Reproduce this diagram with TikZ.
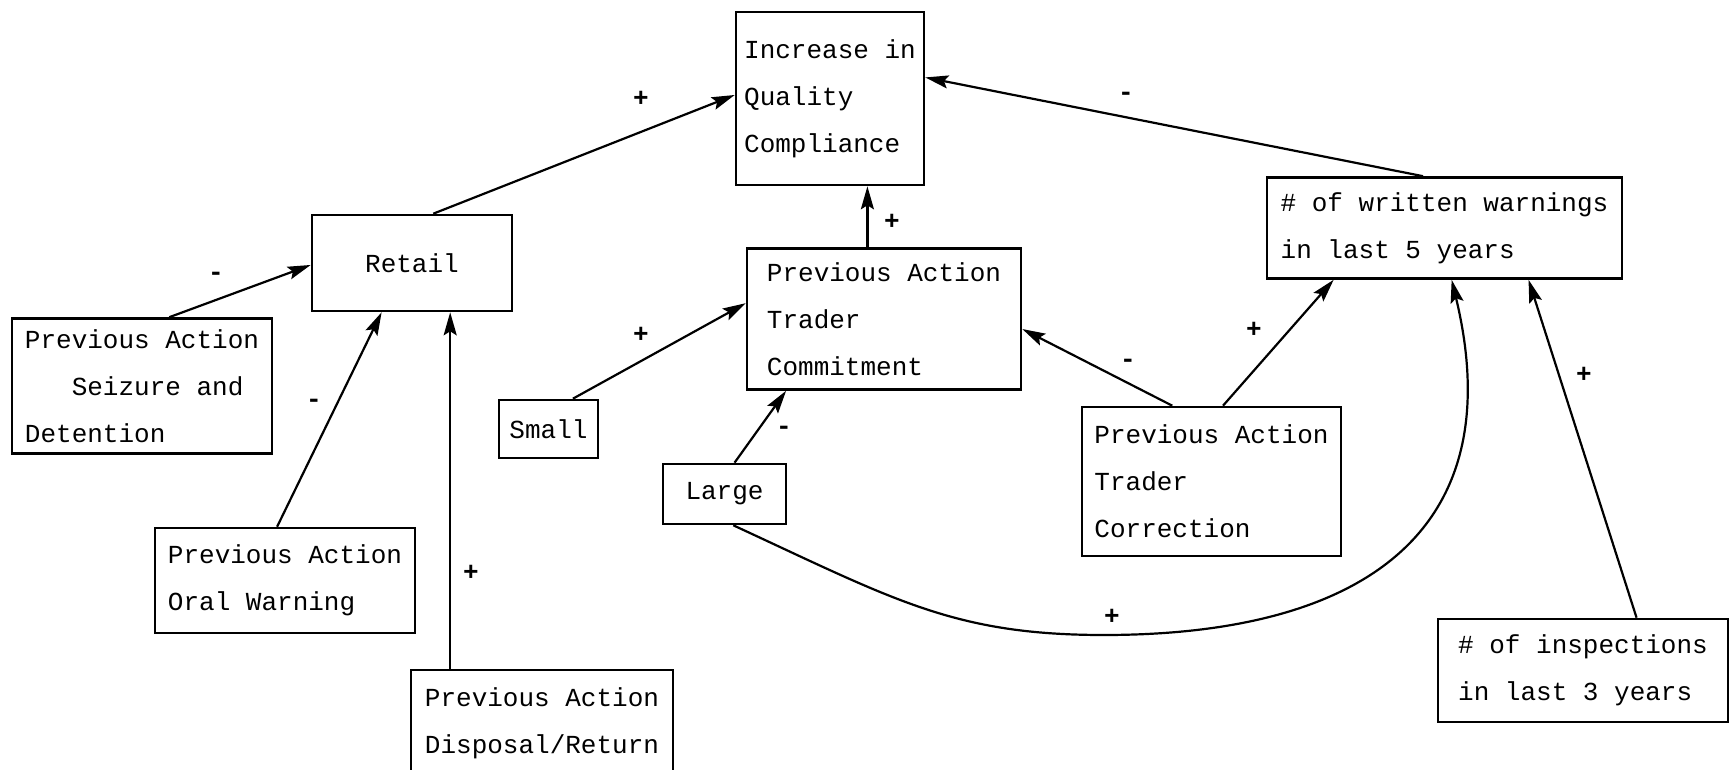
\documentclass[tikz,border=0pt]{standalone}
\usepackage{fontspec}
\newfontfamily\tyfont{Liberation Mono}
\usetikzlibrary{arrows.meta,calc}
\begin{document}
\begin{tikzpicture}[x=1pt,y=-1pt,
  box/.style={draw, line width=2.6pt, font={\tyfont\fontsize{26}{47}\selectfont},
              align=left, inner sep=0pt},
  link/.style={line width=2.2pt, -{Stealth[length=23pt,width=13pt,inset=4pt]}},
  sign/.style={font={\tyfont\bfseries\fontsize{26}{26}\selectfont}, inner sep=0pt}]
\useasboundingbox (0,0) rectangle (1730,770);

% boxes
\node[box, minimum width=188pt, minimum height=173pt] (inc)   at (830,98.5)   {Increase in\\Quality\\Compliance};
\node[box, minimum width=200pt, minimum height=96pt, align=center] (retail) at (412,263) {Retail};
\node[box, minimum width=260pt, minimum height=135pt] (seize) at (142,386)    {Previous Action\\\hphantom{xxx}Seizure and\\Detention};
\node[box, minimum width=260pt, minimum height=105pt] (oral)  at (285,580.5)  {Previous Action\\Oral Warning};
\node[box, minimum width=262pt, minimum height=106pt] (disp)  at (542,723)    {Previous Action\\Disposal/Return};
\node[box, minimum width=99pt,  minimum height=58pt, align=center] (small) at (548.5,429) {Small};
\node[box, minimum width=123pt, minimum height=60pt, align=center] (large) at (724.5,494) {Large};
\node[box, minimum width=274pt, minimum height=141pt] (patc)  at (884,319)    {Previous Action\\Trader\\Commitment};
\node[box, minimum width=355pt, minimum height=101pt] (ww)    at (1444.5,228) {\# of written warnings\\in last 5 years};
\node[box, minimum width=259pt, minimum height=149pt] (corr)  at (1211.5,481.5) {Previous Action\\Trader\\Correction};
\node[box, minimum width=290pt, minimum height=103pt] (insp)  at (1583,670.5) {\# of inspections\\in last 3 years};

% connectors
\draw[link] ($(retail.north west)!0.605!(retail.north east)$) -- ($(inc.north west)!0.48!(inc.south west)$);
\draw[link] ($(seize.north west)!0.604!(seize.north east)$) -- ($(retail.north west)!0.52!(retail.south west)$);
\draw[link] ($(oral.north west)!0.47!(oral.north east)$) -- ($(retail.south west)!0.35!(retail.south east)$);
\coordinate (dspTop) at ($(disp.north west)!0.153!(disp.north east)$);
\draw[link] (dspTop) -- (dspTop |- retail.south);
\coordinate (pcTop) at ($(patc.north west)!0.44!(patc.north east)$);
\draw[link] (pcTop) -- (pcTop |- inc.south);
\draw[link] ($(ww.north west)!0.44!(ww.north east)$) -- ($(inc.north east)!0.38!(inc.south east)$);
\draw[link] ($(small.north west)!0.74!(small.north east)$) -- ($(patc.north west)!0.39!(patc.south west)$);
\draw[link] ($(large.north west)!0.58!(large.north east)$) -- ($(patc.south west)!0.146!(patc.south east)$);
\draw[link] ($(corr.north west)!0.35!(corr.north east)$) -- ($(patc.north east)!0.57!(patc.south east)$);
\draw[link] ($(corr.north west)!0.544!(corr.north east)$) -- ($(ww.south west)!0.19!(ww.south east)$);
\draw[link] ($(insp.north west)!0.683!(insp.north east)$) -- ($(ww.south west)!0.735!(ww.south east)$);
\coordinate (dip) at (1104,635);
\draw[link] ($(large.south west)!0.57!(large.south east)$)
  .. controls (895,600) and (954,635) .. (dip)
  .. controls (1365,635) and (1512,530) .. ($(ww.south west)!0.52!(ww.south east)$);

% polarity signs
\node[sign] (s1)  at (641,99)   {+};
\node[sign] (s2)  at (216,276)  {-};
\node[sign] (s3)  at (314,403)  {-};
\node[sign] (s4)  at (471,573)  {+};
\node[sign] (s5)  at (892,222)  {+};
\node[sign] (s6)  at (1126,96)  {-};
\node[sign] (s7)  at (641,335)  {+};
\node[sign] (s8)  at (784,430)  {-};
\node[sign] (s9)  at (1128,363) {-};
\node[sign] (s10) at (1254,330) {+};
\node[sign] (s11) at (1112,617) {+};
\node[sign] (s12) at (1584,375) {+};
\end{tikzpicture}
\end{document}
